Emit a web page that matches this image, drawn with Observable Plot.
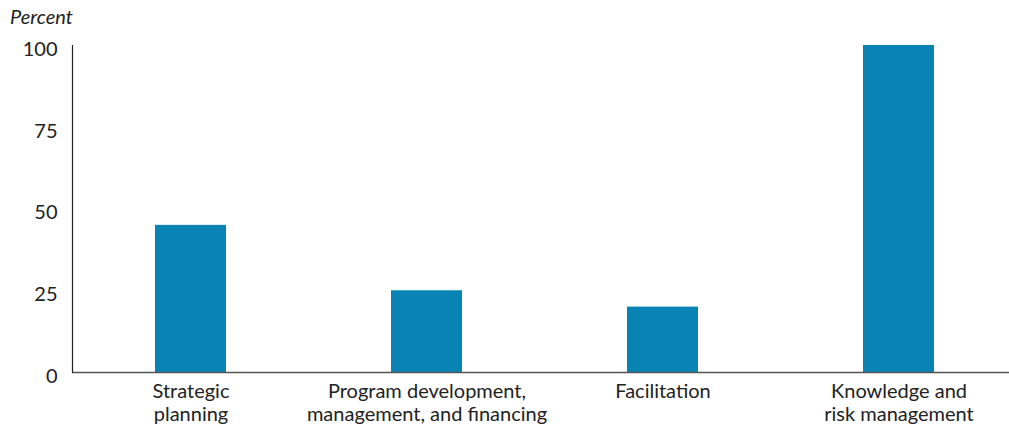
<!DOCTYPE html>
<html>
<head>
<meta charset="utf-8">
<script src="https://cdn.jsdelivr.net/npm/d3@7"></script>
<script src="https://cdn.jsdelivr.net/npm/@observablehq/plot@0.6"></script>
<style>
  html, body { margin: 0; padding: 0; background: #fff; }
  #title { font-family: Lato, sans-serif; font-style: italic; font-size: 20px; color: #222; height: 30px; line-height: 32px; padding-left: 10px; }
  svg { display: block; }
</style>
</head>
<body>
<div id="title">Percent</div>
<div id="chart"></div>
<script>
const categories = ["Strategic planning", "Program development, management, and financing", "Facilitation", "Knowledge and risk management"];
const tickLabels = ["Strategic\nplanning", "Program development,\nmanagement, and financing", "Facilitation", "Knowledge and\nrisk management"];
const values = [45, 25, 20, 100];
const yTicks = [0, 25, 50, 75, 100];

const data = categories.map((c, i) => ({category: c, value: values[i]}));
const labelOf = new Map(categories.map((c, i) => [c, tickLabels[i]]));

const chart = Plot.plot({
  width: 1009,
  height: 397,
  marginLeft: 72,
  marginRight: 0,
  marginTop: 15,
  marginBottom: 55,
  style: {fontFamily: "Lato, sans-serif", fontSize: "20px", color: "#222", background: "#fff"},
  x: {domain: categories, range: [72, 1016], paddingInner: 0.7, paddingOuter: 0.35, label: null},
  y: {domain: [0, 100], label: null},
  marks: [
    Plot.barY(data, {x: "category", y: "value", fill: "#0983b4"}),
    Plot.axisX({tickSize: 0, tickPadding: 9, tickFormat: d => labelOf.get(d), lineHeight: 1.15, fontSize: 20, label: null}),
    Plot.axisY({ticks: yTicks, tickSize: 0, tickPadding: 15, dy: 4, fontSize: 20, label: null}),
    Plot.ruleY([0], {stroke: "#555", strokeWidth: 1.5}),
    Plot.frame({anchor: "left", stroke: "#222", strokeWidth: 1.2})
  ]
});
document.getElementById("chart").appendChild(chart);
</script>
</body>
</html>
